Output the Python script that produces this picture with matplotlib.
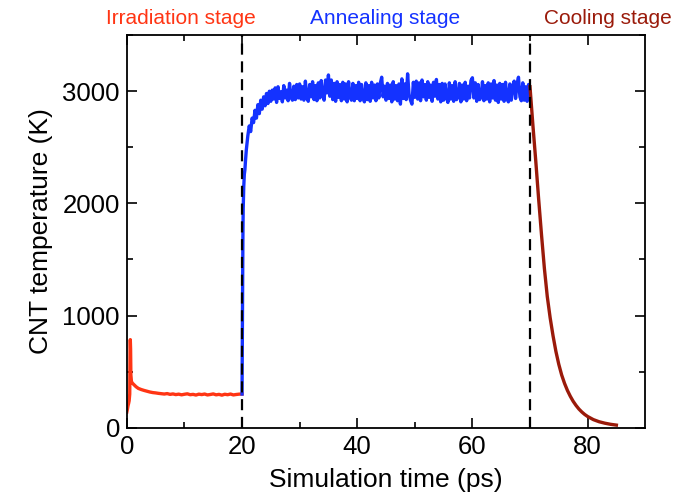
import numpy as np
import matplotlib
matplotlib.use("Agg")
import matplotlib.pyplot as plt

plt.rcParams['font.family'] = ['Liberation Sans', 'DejaVu Sans']

# irradiation stage (0-20 ps)
irr_t = [0, 0.1, 0.2, 0.3, 0.4, 0.5, 0.55, 0.6, 0.65, 0.7, 0.8, 1.0, 1.3, 1.6,
         2.0, 2.5, 3.0, 3.5, 4.0, 4.5, 5.0, 5.5, 6.0, 6.5, 7.0, 7.5, 8.0, 8.5,
         9.0, 9.5, 10.0, 10.5, 11.0, 11.5, 12.0, 12.5, 13.0, 13.5, 14.0, 14.5,
         15.0, 15.5, 16.0, 16.5, 17.0, 17.5, 18.0, 18.5, 19.0, 19.5, 20.0]
irr_T = [140, 165, 195, 215, 240, 300, 640, 785, 700, 470, 410, 395, 380, 365,
         350, 340, 332, 325, 318, 313, 310, 306, 303, 300, 304, 297, 301, 295,
         299, 293, 298, 302, 294, 297, 291, 299, 295, 300, 292, 296, 301, 293,
         297, 290, 298, 294, 300, 292, 296, 299, 300]

# annealing stage: fast heating (20-25 ps)
heat_t = [20.0, 20.05, 20.1, 20.15, 20.2, 20.3, 20.4, 20.5, 20.6, 20.75, 21.0,
          21.25, 21.5, 21.75, 22.0, 22.25, 22.5, 22.75, 23.0, 23.25, 23.5,
          23.75, 24.0, 24.25, 24.5, 24.75]
heat_T = [300, 800, 1300, 1700, 1950, 2150, 2260, 2300, 2380, 2480, 2600,
          2690, 2640, 2760, 2720, 2830, 2760, 2880, 2800, 2920, 2840,
          2950, 2870, 2980, 2890, 3000]

# annealing plateau, every 0.25 ps from 25 to 70 ps
plateau_T = [
    2910, 3010, 2930, 3030, 2900, 3040, 2935, 2995, 2905, 3050,
    2940, 3010, 2915, 3070, 2950, 2920, 3045, 2925, 3060, 2940,
    3065, 2930, 3040, 2920, 3090, 2945, 2910, 3060, 2950, 3085,
    2925, 3050, 2915, 3075, 2940, 3095, 2960, 2920, 3100, 2985,
    3145, 2955, 3100, 2925, 3070, 2910, 3085, 2945, 3060, 2915,
    3080, 2930, 3065, 2905, 3085, 2950, 2920, 3070, 2915, 3050,
    2935, 3080, 2915, 3060, 2945, 2905, 3075, 2925, 3050, 2910,
    3080, 2940, 3055, 2915, 3065, 2940, 3070, 3125, 2950, 3045,
    2920, 3070, 2935, 3055, 2905, 3085, 2930, 3050, 2915, 3065,
    2885, 3110, 2935, 3065, 2925, 3155, 2970, 2920, 2885, 3080,
    2945, 3090, 2930, 3075, 2915, 3100, 2950, 3060, 2920, 3085,
    2945, 3055, 2910, 3080, 2955, 3105, 2930, 3060, 2905, 3070,
    2920, 3065, 2945, 2900, 3075, 2930, 3050, 2910, 3085, 2925,
    2950, 3070, 2905, 3055, 2930, 3080, 2915, 3045, 2940, 3095,
    3120, 2940, 3075, 2910, 3060, 2925, 2950, 3085, 2915, 3050,
    2930, 3075, 2905, 3065, 2940, 3095, 2920, 3055, 2900, 3070,
    2930, 3060, 2910, 3080, 2945, 2905, 3065, 2920, 3045, 3090,
    2935, 3065, 3125, 2950, 2915, 3075, 2920, 3040, 2910, 3060,
    2990]
plateau_t = 25 + 0.25 * np.arange(len(plateau_T))

# cooling stage (70-85 ps)
cool_t = [70.0, 70.5, 71.0, 71.5, 72.0, 72.5, 73.0, 73.5, 74.0, 74.5, 75.0,
          75.5, 76.0, 76.5, 77.0, 77.5, 78.0, 78.5, 79.0, 79.5, 80.0, 81.0,
          82.0, 83.0, 84.0, 85.0]
cool_T = [3040, 2700, 2380, 2040, 1720, 1420, 1170, 980, 820, 680, 565,
          470, 395, 332, 280, 235, 198, 166, 140, 118, 100, 72,
          53, 40, 30, 23]

c_irr = '#ff3514'
c_ann = '#1432ff'
c_cool = '#9a1a0a'

fig = plt.figure(figsize=(6.82, 4.95), dpi=100)
ax = fig.add_axes([0.186, 0.136, 0.760, 0.793])

ann_t = np.concatenate([heat_t, plateau_t])
ann_T = np.concatenate([heat_T, plateau_T])

ax.plot(irr_t, irr_T, color=c_irr, lw=2.4)
ax.plot(ann_t, ann_T, color=c_ann, lw=2.4)
ax.plot(cool_t, cool_T, color=c_cool, lw=2.4)

for xv in (20, 70):
    ax.axvline(xv, color='black', lw=1.6, ls=(0, (5, 3)), zorder=3)

ax.set_xlim(0, 90)
ax.set_ylim(0, 3500)
ax.set_xticks([0, 20, 40, 60, 80])
ax.set_xticks(np.arange(10, 90, 20), minor=True)
ax.set_yticks([0, 1000, 2000, 3000])
ax.set_yticks([500, 1500, 2500, 3500], minor=True)
ax.tick_params(which='both', direction='in', top=True, right=True,
               labelsize=18.5, width=1.2, pad=5)
ax.tick_params(which='major', length=7)
ax.tick_params(which='minor', length=4)
for s in ax.spines.values():
    s.set_linewidth(1.3)

ax.set_xlabel('Simulation time (ps)', fontsize=19, labelpad=7)
ax.set_ylabel('CNT temperature (K)', fontsize=19, labelpad=7)

ax.text(9.4, 1.043, 'Irradiation stage', color=c_irr, fontsize=15,
        ha='center', va='center', transform=ax.get_xaxis_transform(), clip_on=False)
ax.text(44.8, 1.043, 'Annealing stage', color=c_ann, fontsize=15,
        ha='center', va='center', transform=ax.get_xaxis_transform(), clip_on=False)
ax.text(83.5, 1.043, 'Cooling stage', color=c_cool, fontsize=15,
        ha='center', va='center', transform=ax.get_xaxis_transform(), clip_on=False)

fig.savefig('out.png', dpi=100)
